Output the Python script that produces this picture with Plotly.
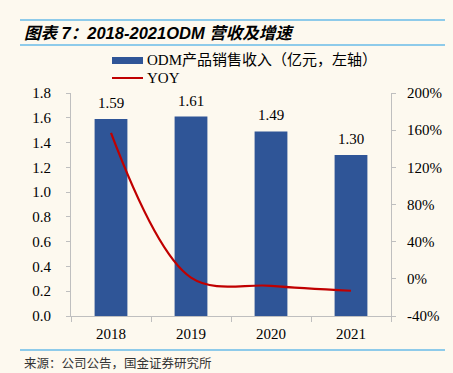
import plotly.graph_objects as go

years = ["2018", "2019", "2020", "2021"]
revenue = [1.59, 1.61, 1.49, 1.30]
yoy = [157, 1.3, -7.5, -12.8]
left_ticks = [0, 0.2, 0.4, 0.6, 0.8, 1.0, 1.2, 1.4, 1.6, 1.8]
right_ticks = [-40, 0, 40, 80, 120, 160, 200]

BG = "#FDF9EF"
BLUE = "#2F5597"
RED = "#C00000"
SKY = "#8ECBEA"
AXIS = "#BFBFBF"
SERIF = "Liberation Serif, Times New Roman, Noto Sans CJK SC"

fig = go.Figure()
fig.add_trace(go.Bar(
    x=years, y=revenue, marker=dict(color=BLUE, line=dict(width=0)),
    showlegend=False, yaxis="y", hoverinfo="skip"))
fig.add_trace(go.Scatter(
    x=years, y=yoy, mode="lines", line=dict(color=RED, width=2.2, shape="spline", smoothing=1.0),
    showlegend=False, yaxis="y2", hoverinfo="skip"))

label_annotations = [
    dict(x=i, y=v, xref="x", yref="y", text=f"{v:.2f}", showarrow=False,
         yanchor="middle", yshift=16, font=dict(family=SERIF, size=15, color="#000"))
    for i, v in enumerate(revenue)
]

fig.update_layout(
    width=453, height=373,
    paper_bgcolor=BG, plot_bgcolor=BG,
    margin=dict(l=71, r=62, t=93, b=57),
    bargap=0.59,
    xaxis=dict(type="category", showline=True, linecolor=AXIS, linewidth=1, ticks="outside",
               tickcolor=AXIS, ticklen=5, tickson="boundaries", showgrid=False,
               ticklabelstandoff=4,
               tickfont=dict(family=SERIF, size=15, color="#000")),
    yaxis=dict(range=[0, 1.8], tickvals=left_ticks, ticktext=[f"{v:.1f}" for v in left_ticks],
               showline=True, linecolor=AXIS, linewidth=1, ticks="outside", tickcolor=AXIS,
               ticklen=4, showgrid=False, zeroline=False, ticklabelstandoff=12,
               tickfont=dict(family=SERIF, size=15, color="#000")),
    yaxis2=dict(range=[-40, 200], tickvals=right_ticks, ticktext=[f"{v}%" for v in right_ticks],
                overlaying="y", side="right",
                showline=True, linecolor=AXIS, linewidth=1, ticks="outside", tickcolor=AXIS,
                ticklen=4, showgrid=False, zeroline=False, ticklabelstandoff=8,
                tickfont=dict(family=SERIF, size=15, color="#000")),
    shapes=[
        dict(type="line", xref="paper", yref="paper", x0=-51/320, x1=374/320,
             y0=1 + (93 - 20) / 223, y1=1 + (93 - 20) / 223, line=dict(color=SKY, width=2)),
        dict(type="line", xref="paper", yref="paper", x0=-51/320, x1=374/320,
             y0=1 + (93 - 45) / 223, y1=1 + (93 - 45) / 223, line=dict(color=SKY, width=2)),
        dict(type="line", xref="paper", yref="paper", x0=-51/320, x1=374/320,
             y0=-(350 - 316) / 223, y1=-(350 - 316) / 223, line=dict(color=SKY, width=2)),
        # legend symbols
        dict(type="rect", xref="paper", yref="paper", x0=(112 - 71) / 320, x1=(143 - 71) / 320,
             y0=1 + (93 - 64) / 223, y1=1 + (93 - 57) / 223, fillcolor=BLUE, line=dict(width=0)),
        dict(type="line", xref="paper", yref="paper", x0=(112 - 71) / 320, x1=(143 - 71) / 320,
             y0=1 + (93 - 78) / 223, y1=1 + (93 - 78) / 223, line=dict(color=RED, width=2)),
    ],
    annotations=label_annotations + [
        dict(text="<b><i>图表 7：2018-2021ODM 营收及增速</i></b>", xref="paper", yref="paper",
             x=-49/320, y=1 + (93 - 33) / 223, xanchor="left", yanchor="middle", showarrow=False,
             font=dict(family="Liberation Sans, Arial, Noto Sans CJK SC", size=16.5, color="#000")),
        dict(text="ODM产品销售收入（亿元，左轴）", xref="paper", yref="paper",
             x=(145 - 71) / 320, y=1 + (93 - 60.5) / 223, xanchor="left", yanchor="middle",
             showarrow=False, font=dict(family=SERIF, size=15, color="#000")),
        dict(text="YOY", xref="paper", yref="paper",
             x=(145 - 71) / 320, y=1 + (93 - 78) / 223, xanchor="left", yanchor="middle",
             showarrow=False, font=dict(family=SERIF, size=15, color="#000")),
        dict(text="来源：公司公告，国金证券研究所", xref="paper", yref="paper",
             x=-49/320, y=-(362 - 316) / 223, xanchor="left", yanchor="middle",
             showarrow=False, font=dict(family="Noto Sans CJK SC", size=12.5, color="#333")),
    ],
)

fig.write_html("out.html", config={"displayModeBar": False, "staticPlot": True},
               post_script="document.body.style.margin='0';document.body.style.overflow='hidden';")
